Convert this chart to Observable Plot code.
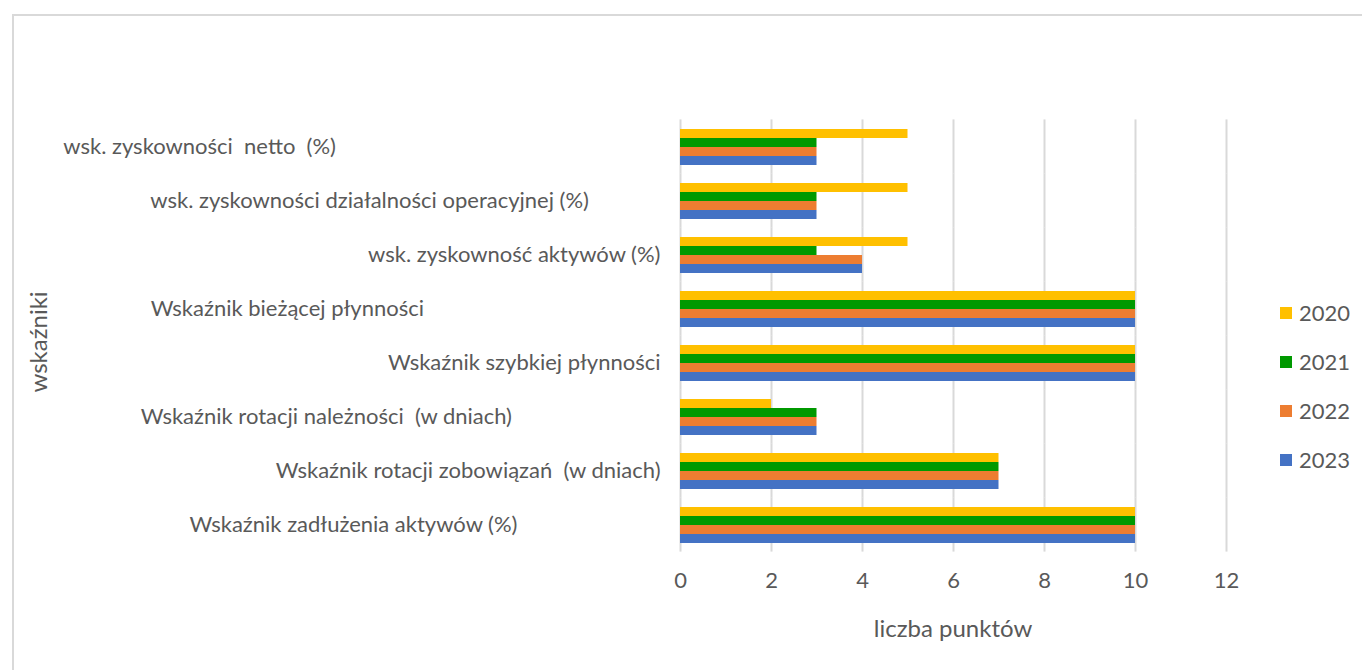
<!DOCTYPE html>
<html>
<head>
<meta charset="utf-8">
<script src="https://cdn.jsdelivr.net/npm/d3@7"></script>
<script src="https://cdn.jsdelivr.net/npm/@observablehq/plot@0.6"></script>
<style>
  body { margin: 0; background: #fff; }
  #wrap { position: relative; width: 1362px; height: 670px; overflow: hidden; font-family: Lato, sans-serif; color: #595959; background: #fff; }
  #frame { position: absolute; left: 12px; top: 14px; width: 1400px; height: 700px; border: 2px solid #d9d9d9; box-sizing: border-box; pointer-events: none; }
  #chart { position: absolute; left: 0; top: 0; }
  #ytitle { position: absolute; left: 37px; top: 342px; transform: translate(-50%, -50%) rotate(-90deg); font-size: 24px; white-space: nowrap; }
  #xtitle { position: absolute; left: 953px; top: 627px; transform: translate(-50%, -50%); font-size: 24px; white-space: nowrap; }
  #legend { position: absolute; left: 1280px; top: 288px; }
  .item { height: 49px; display: flex; align-items: center; font-size: 22px; }
  .sw { width: 12px; height: 12px; margin-right: 7px; }
</style>
</head>
<body>
<div id="wrap">
  <div id="chart"></div>
  <div id="ytitle">wskaźniki</div>
  <div id="xtitle"></div>
  <div id="legend"></div>
  <div id="frame"></div>
</div>
<script>
const categories = [
  "wsk. zyskowności  netto  (%)",
  "wsk. zyskowności działalności operacyjnej (%)",
  "wsk. zyskowność aktywów (%)",
  "Wskaźnik bieżącej płynności",
  "Wskaźnik szybkiej płynności",
  "Wskaźnik rotacji należności  (w dniach)",
  "Wskaźnik rotacji zobowiązań  (w dniach)",
  "Wskaźnik zadłużenia aktywów (%)"
];
// trailing spaces present in the original category labels
const labelTrailingSpaces = [59, 13, 0, 43, 0, 27, 0, 26];
const years = ["2020", "2021", "2022", "2023"];
const colors = ["#FFC000", "#009900", "#ED7D31", "#4472C4"];
const v2020 = [5, 5, 5, 10, 10, 2, 7, 10];
const v2021 = [3, 3, 3, 10, 10, 3, 7, 10];
const v2022 = [3, 3, 4, 10, 10, 3, 7, 10];
const v2023 = [3, 3, 4, 10, 10, 3, 7, 10];
const xTicks = [0, 2, 4, 6, 8, 10, 12];
const xTitle = "liczba punktów";

const series = [v2020, v2021, v2022, v2023];
const rows = [];
categories.forEach((c, i) => years.forEach((y, j) => rows.push({cat: c, year: y, value: series[j][i]})));

const fmtCat = d => d.replace(/  /g, " \u00A0") + "\u2005".repeat(labelTrailingSpaces[categories.indexOf(d)]);

const chart = Plot.plot({
  width: 1362,
  height: 670,
  marginLeft: 680,
  marginRight: 136,
  marginTop: 120,
  marginBottom: 120,
  style: {fontFamily: "Lato, sans-serif", color: "#595959", background: "transparent", overflow: "visible"},
  x: {domain: [0, 12]},
  y: {domain: years, padding: 0, axis: null},
  fy: {domain: categories, paddingInner: 0.315, paddingOuter: 0.1},
  color: {domain: years, range: colors},
  marks: [
    Plot.ruleX(xTicks, {stroke: "#d9d9d9", strokeWidth: 2, insetTop: -8.6, insetBottom: -8.6}),
    Plot.barX(rows, {fy: "cat", y: "year", x: "value", fill: "year"}),
    Plot.axisX({ticks: xTicks, tickSize: 0, tickPadding: 29, fontSize: 22, label: null}),
    Plot.axisFy({anchor: "left", tickSize: 0, tickPadding: 20, fontSize: 22, tickFormat: fmtCat, label: null})
  ]
});
document.getElementById("chart").appendChild(chart);
document.getElementById("xtitle").textContent = xTitle;

const legend = document.getElementById("legend");
years.forEach((y, i) => {
  const it = document.createElement("div");
  it.className = "item";
  const sw = document.createElement("div");
  sw.className = "sw";
  sw.style.background = colors[i];
  const t = document.createElement("span");
  t.textContent = y;
  it.appendChild(sw);
  it.appendChild(t);
  legend.appendChild(it);
});
</script>
</body>
</html>
